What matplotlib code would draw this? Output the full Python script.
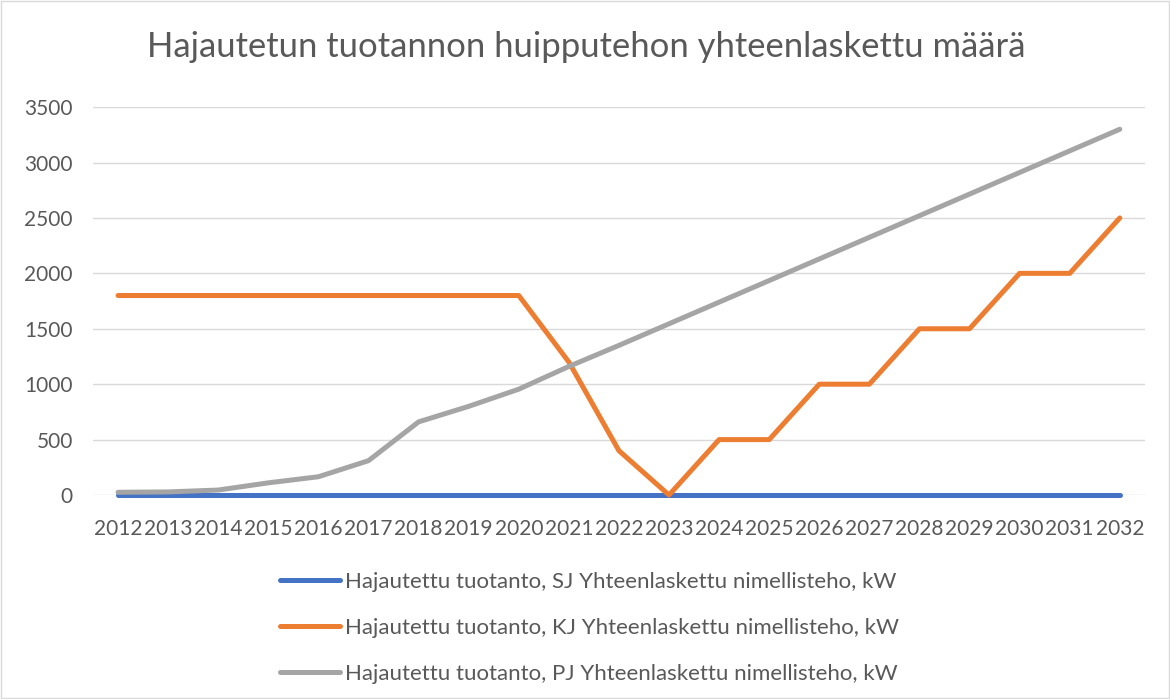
import matplotlib
matplotlib.use('Agg')
import matplotlib.pyplot as plt
from matplotlib.patches import Rectangle

plt.rcParams['font.family'] = ['Lato', 'DejaVu Sans']

years = [str(y) for y in range(2012, 2033)]
sj = [0] * 21
kj = [1800, 1800, 1800, 1800, 1800, 1800, 1800, 1800, 1800, 1200, 400,
      0, 500, 500, 1000, 1000, 1500, 1500, 2000, 2000, 2500]
pj = [25, 28, 45, 110, 165, 310, 660, 800, 955, 1160, 1350,
      1545, 1740, 1935, 2130, 2325, 2520, 2715, 2910, 3105, 3300]

series_names = [
    'Hajautettu tuotanto, SJ Yhteenlaskettu nimellisteho, kW',
    'Hajautettu tuotanto, KJ Yhteenlaskettu nimellisteho, kW',
    'Hajautettu tuotanto, PJ Yhteenlaskettu nimellisteho, kW',
]
colors = ['#4472C4', '#ED7D31', '#A5A5A5']
txt = '#595959'

fig = plt.figure(figsize=(11.7, 6.99), dpi=100)
fig.patches.append(Rectangle((0.001, 0.001), 0.998, 0.998, transform=fig.transFigure,
                             fill=False, edgecolor='#D9D9D9', linewidth=1))
ax = fig.add_axes([0.0795, 0.2918, 0.899, 0.555])

x = list(range(len(years)))
for vals, name, c in zip([sj, kj, pj], series_names, colors):
    ax.plot(x, vals, color=c, linewidth=3.6, label=name,
            solid_capstyle='round', clip_on=False)

ax.set_xlim(-0.5, len(years) - 0.5)
ax.set_ylim(0, 3500)
ax.set_yticks(range(0, 3501, 500))
ax.set_xticks(x)
ax.set_xticklabels(years)
ax.grid(axis='y', color='#D9D9D9', linewidth=1)
ax.set_axisbelow(True)
for s in ax.spines.values():
    s.set_visible(False)
ax.tick_params(length=0, labelsize=15, colors=txt)
ax.tick_params(axis='x', pad=17)
ax.tick_params(axis='y', pad=14.5)

fig.text(0.5013, 0.9185, 'Hajautetun tuotannon huipputehon yhteenlaskettu määrä',
         ha='center', va='baseline', fontsize=24.9, color=txt)

leg = fig.legend(loc='center', bbox_to_anchor=(0.504, 0.102), ncol=1, frameon=False,
                 fontsize=16, handlelength=2.7, handletextpad=0.22, labelspacing=1.17)
for t in leg.get_texts():
    t.set_color(txt)

fig.savefig('out.png', dpi=100)
